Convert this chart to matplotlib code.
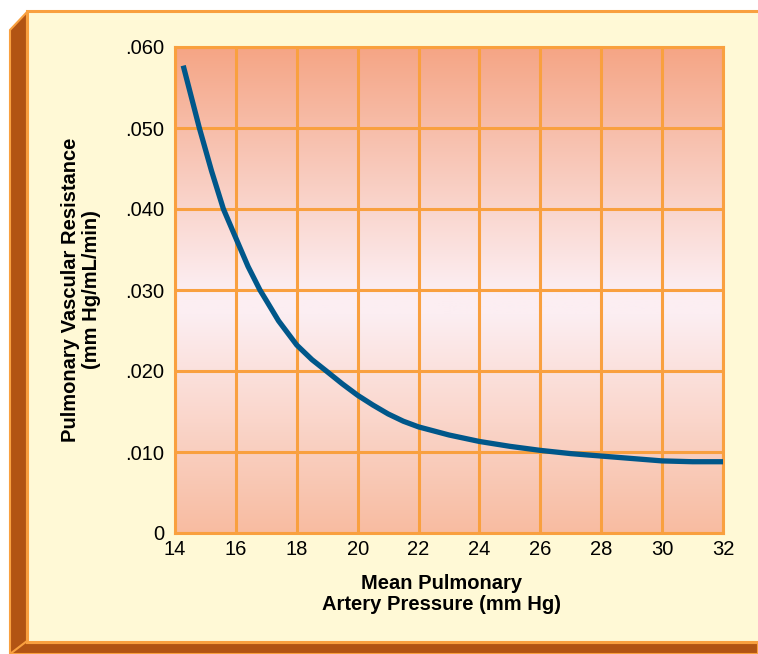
import numpy as np
import matplotlib.pyplot as plt
from matplotlib.colors import LinearSegmentedColormap
from matplotlib.patches import Rectangle, Polygon

plt.rcParams['font.family'] = ['Liberation Sans', 'DejaVu Sans']

# curve
pressure = [14.27, 14.8, 15.2, 15.59, 16.0, 16.4, 16.79, 17.0, 17.4, 18.0, 18.5,
            18.97, 19.5, 20.0, 20.5, 21.0, 21.5, 22.0, 23.0, 24.0, 25.0, 26.0,
            27.0, 28.0, 29.0, 30.0, 31.0, 32.0]
resistance = [0.0577, 0.0500, 0.0447, 0.0400, 0.0364, 0.0329, 0.0300, 0.0287,
              0.0262, 0.0232, 0.0214, 0.0200, 0.0184, 0.0170, 0.0158, 0.0147,
              0.0138, 0.0131, 0.0121, 0.0113, 0.0107, 0.0102, 0.0098, 0.0095,
              0.0092, 0.0089, 0.0088, 0.0088]

x_ticks = [14, 16, 18, 20, 22, 24, 26, 28, 30, 32]
y_ticks = [0, 0.010, 0.020, 0.030, 0.040, 0.050, 0.060]
y_tick_labels = ['0', '.010', '.020', '.030', '.040', '.050', '.060']

ORANGE = '#F9A03F'
BROWN = '#B25413'
CREAM = '#FFF9D6'
CURVE = '#00578A'
FS = 14.5

W, H = 758, 654
fig = plt.figure(figsize=(W / 100, H / 100), dpi=100)
fig.patch.set_facecolor('white')


def fx(px):
    return px / W


def fy(py):
    return 1 - py / H


# 3D frame: brown edges on left and bottom, cream panel with orange border
frame = fig.add_axes([0, 0, 1, 1])
frame.set_xlim(0, W)
frame.set_ylim(H, 0)
frame.axis('off')
frame.add_patch(Polygon([(10, 30), (27, 12), (27, 643), (W, 643), (W, 654),
                         (10, 654)], closed=True, facecolor=BROWN,
                        edgecolor=ORANGE, lw=1.5))
frame.add_patch(Polygon([(10, 654), (27, 641)], closed=False, edgecolor=ORANGE,
                        lw=1.5, fill=False))
frame.add_patch(Rectangle((27, 11), W, 631, facecolor=CREAM,
                          edgecolor=ORANGE, lw=2.2))

ax = fig.add_axes([fx(175), fy(533), fx(723) - fx(175), fy(47) - fy(533)])

# background gradient: salmon at top and bottom, pale pink around .027
cmap = LinearSegmentedColormap.from_list(
    'bg', [(0.0, '#F8BCA1'), (0.45, '#FCEEF2'), (0.5, '#FCEEF2'),
           (1.0, '#F5A585')])
grad = np.linspace(0, 1, 256).reshape(-1, 1)
ax.imshow(grad, cmap=cmap, origin='lower', aspect='auto',
          extent=[14, 32, 0, 0.060], zorder=0)

ax.plot(pressure, resistance, color=CURVE, lw=3.8, solid_capstyle='butt',
        solid_joinstyle='round', zorder=3)

ax.set_xlim(14, 32)
ax.set_ylim(0, 0.060)
ax.set_xticks(x_ticks)
ax.set_yticks(y_ticks)
ax.set_yticklabels(y_tick_labels)
ax.tick_params(length=0, labelsize=FS, colors='black')
ax.tick_params(axis='y', pad=8)
ax.tick_params(axis='x', pad=5)
ax.grid(True, color=ORANGE, lw=2.2, zorder=2)
ax.set_axisbelow(False)
for s in ax.spines.values():
    s.set_color(ORANGE)
    s.set_linewidth(2.2)

fig.text(fx(442), fy(594), 'Mean Pulmonary\nArtery Pressure (mm Hg)',
         ha='center', va='center', fontsize=FS, fontweight='bold',
         linespacing=1.15)
fig.text(fx(81), fy(290), 'Pulmonary Vascular Resistance\n(mm Hg/mL/min)',
         ha='center', va='center', rotation=90, fontsize=FS,
         fontweight='bold', linespacing=1.15)

fig.savefig('out.png', dpi=100)
